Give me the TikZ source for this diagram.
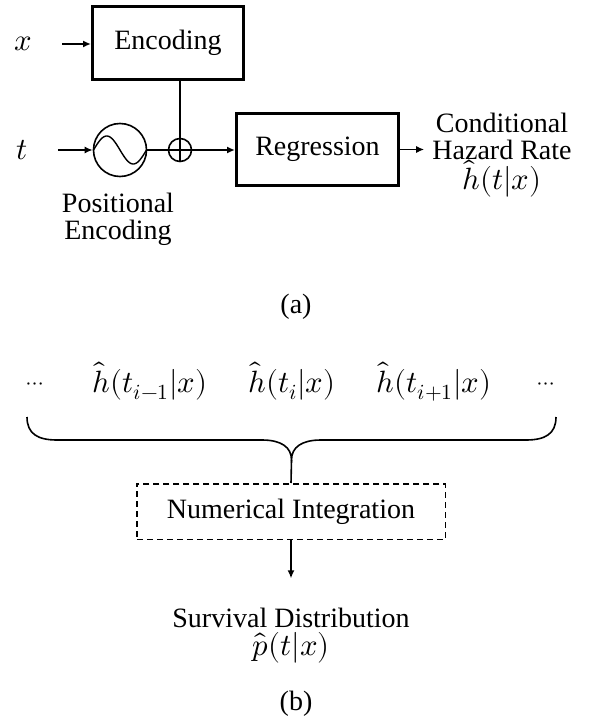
\documentclass[tikz,border=0pt]{standalone}
\usepackage{fontspec}
\setmainfont{Liberation Serif}
\usepackage{unicode-math}
\setmathfont{Latin Modern Math}[Scale=1.1]
\usetikzlibrary{arrows.meta}
\begin{document}
\begin{tikzpicture}[x=1pt,y=-1pt,
  every node/.style={font=\fontsize{28}{28}\selectfont, inner sep=0pt},
  conn/.style={line width=1.6pt, -{Latex[length=8pt,width=7pt]}},
  wire/.style={line width=1.6pt},
  blk/.style={draw, line width=3pt},
  ring/.style={draw, circle, line width=1.6pt},
  dashbox/.style={draw, line width=1.5pt, dash pattern=on 6pt off 4pt},
  lbl/.style={anchor=base}]
\useasboundingbox (0,0) rectangle (589,719);
% ---------- (a)
\node (x) at (23,44) {$x$};
\node (t) at (22,150) {$t$};
\node[blk, minimum width=151pt, minimum height=73pt] (enc) at (168,43) {Encoding};
\node[ring, minimum size=53pt] (sine) at (120,150) {};
\draw[line width=1.4pt] plot[domain=-26.5:26.5, samples=60] ({120+\x},{150-14*sin(180*(\x+26.5)/26.5)});
\node[ring, minimum size=23pt] (plus) at (180,150) {};
\draw[wire] (plus.north) -- (plus.south);
\node[blk, minimum width=162pt, minimum height=72pt] (reg) at (317.5,149.5) {Regression};
\node[lbl] (out1) at (502,133) {Conditional};
\node[lbl] (out2) at (502,160) {Hazard Rate};
\node[lbl] (out3) at (502,190) {$\hat{h}(t|x)$};
\node[lbl] (pos1) at (118,212) {Positional};
\node[lbl] (pos2) at (118,240) {Encoding};
\node[lbl] (capa) at (296,313) {(a)};
\draw[conn, shorten <=30pt] (x) -- (enc.west |- x);
\draw[conn, shorten <=30pt] (t) -- (sine.west);
\draw[wire] (sine.east) -- (plus.west);
\draw[wire] (plus.north) -- (plus.north |- enc.south);
\draw[conn] (plus.west) -- (reg.west |- plus.west);
\draw[conn, shorten >=8pt] (reg.east) -- (reg.east -| out2.west);
% ---------- (b)
\node[lbl] (d1) at (35,389) {\fontsize{20}{20}\selectfont$\cdots$};
\node[lbl] (h1) at (150,392) {$\hat{h}(t_{i-1}|x)$};
\node[lbl] (h2) at (292,392) {$\hat{h}(t_{i}|x)$};
\node[lbl] (h3) at (434,392) {$\hat{h}(t_{i+1}|x)$};
\node[lbl] (d2) at (546,389) {\fontsize{20}{20}\selectfont$\cdots$};
\coordinate (bl) at (27,417);
\coordinate (br) at (556,417);
\coordinate (tip) at (291.5,460);
\draw[wire] (bl) .. controls (27,434) and (38,440) .. (57,440) -- (262,440)
  .. controls (281,440) and (291.5,447) .. (tip)
  .. controls (291.5,447) and (302,440) .. (321,440) -- (526,440)
  .. controls (545,440) and (556,434) .. (br);
\node[dashbox, minimum width=308.5pt, minimum height=55.5pt] (num) at (291,511.5) {Numerical Integration};
\draw[wire] (tip) -- (num.north);
\node[lbl] (sv1) at (291,627) {Survival Distribution};
\node[lbl] (sv2) at (291,655) {$\hat{p}(t|x)$};
\node[lbl] (capb) at (296,710) {(b)};
\draw[conn, shorten >=29pt] (num.south) -- (sv1.north);
\end{tikzpicture}
\end{document}
